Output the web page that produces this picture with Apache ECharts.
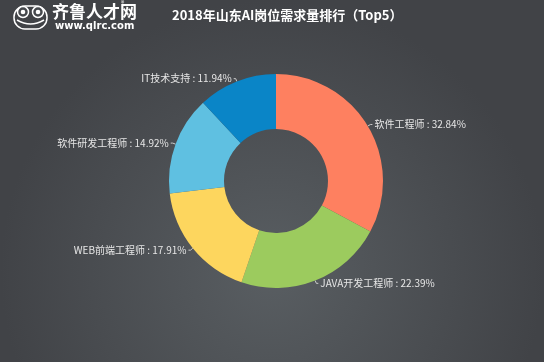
<!DOCTYPE html>
<html><head><meta charset="utf-8">
<script src="https://cdn.jsdelivr.net/npm/echarts@6/dist/echarts.min.js"></script>
<style>html,body{margin:0;padding:0;background:#45484c}#c{width:544px;height:362px}</style>
</head><body><div id="c"></div>
<script>
var categories = ['软件工程师', 'JAVA开发工程师', 'WEB前端工程师', '软件研发工程师', 'IT技术支持'];
var values = [22, 15, 12, 10, 8];
var colors = ['#fe8060', '#9ccb5e', '#fdd65e', '#5fc0e1', '#0a85c7'];
var titleText = '2018年山东AI岗位需求量排行（Top5）';

var chart = echarts.init(document.getElementById('c'));
var font = '"Noto Sans CJK SC", "Noto Sans", sans-serif';
var white = {fill: 'none', stroke: '#ffffff', lineWidth: 1.5};
chart.setOption({
  backgroundColor: {
    type: 'radial', x: 0.5, y: 0.75, r: 0.75,
    colorStops: [{offset: 0, color: '#595e62'}, {offset: 1, color: '#414347'}]
  },
  title: {
    text: titleText, left: 167, top: 4,
    textStyle: {color: '#ffffff', fontSize: 13, fontWeight: 'bold', fontFamily: font}
  },
  graphic: [
    {type: 'rect', shape: {x: 14, y: 6, width: 33, height: 23, r: [11, 11, 11, 11]}, style: white},
    {type: 'circle', shape: {cx: 23, cy: 12, r: 5.5}, style: {fill: '#45484c', stroke: '#ffffff', lineWidth: 1.5}},
    {type: 'circle', shape: {cx: 38, cy: 12, r: 5.5}, style: {fill: '#45484c', stroke: '#ffffff', lineWidth: 1.5}},
    {type: 'circle', shape: {cx: 23, cy: 12, r: 2.3}, style: {fill: '#ffffff'}},
    {type: 'circle', shape: {cx: 38, cy: 12, r: 2.3}, style: {fill: '#ffffff'}},
    {type: 'bezierCurve', shape: {x1: 17, y1: 20, x2: 44, y2: 20, cpx1: 30.5, cpy1: 28}, style: white},
    {type: 'text', left: 52, top: 3, style: {text: '齐鲁人才网', fill: '#ffffff', font: 'bold 17px ' + font}},
    {type: 'text', left: 121, top: 0, style: {text: '®', fill: '#ffffff', font: '7px ' + font}},
    {type: 'text', left: 55, top: 21, style: {text: 'www.qlrc.com', fill: '#ffffff', font: 'bold 10px "DejaVu Sans", sans-serif'}}
  ],
  color: colors,
  series: [{
    type: 'pie',
    center: [276, 181],
    radius: [52, 107],
    startAngle: 90,
    clockwise: true,
    avoidLabelOverlap: false,
    label: {
      show: true, position: 'outside', formatter: '{b} : {d}%',
      color: '#e6e6e6', fontSize: 10, fontFamily: font, distanceToLabelLine: 2
    },
    labelLine: {show: true, length: 3, length2: 2, lineStyle: {color: '#cccccc', width: 1}},
    itemStyle: {borderWidth: 0},
    emphasis: {disabled: true},
    animation: false,
    data: categories.map(function (c, i) { return {name: c, value: values[i]}; })
  }]
});
</script></body></html>
